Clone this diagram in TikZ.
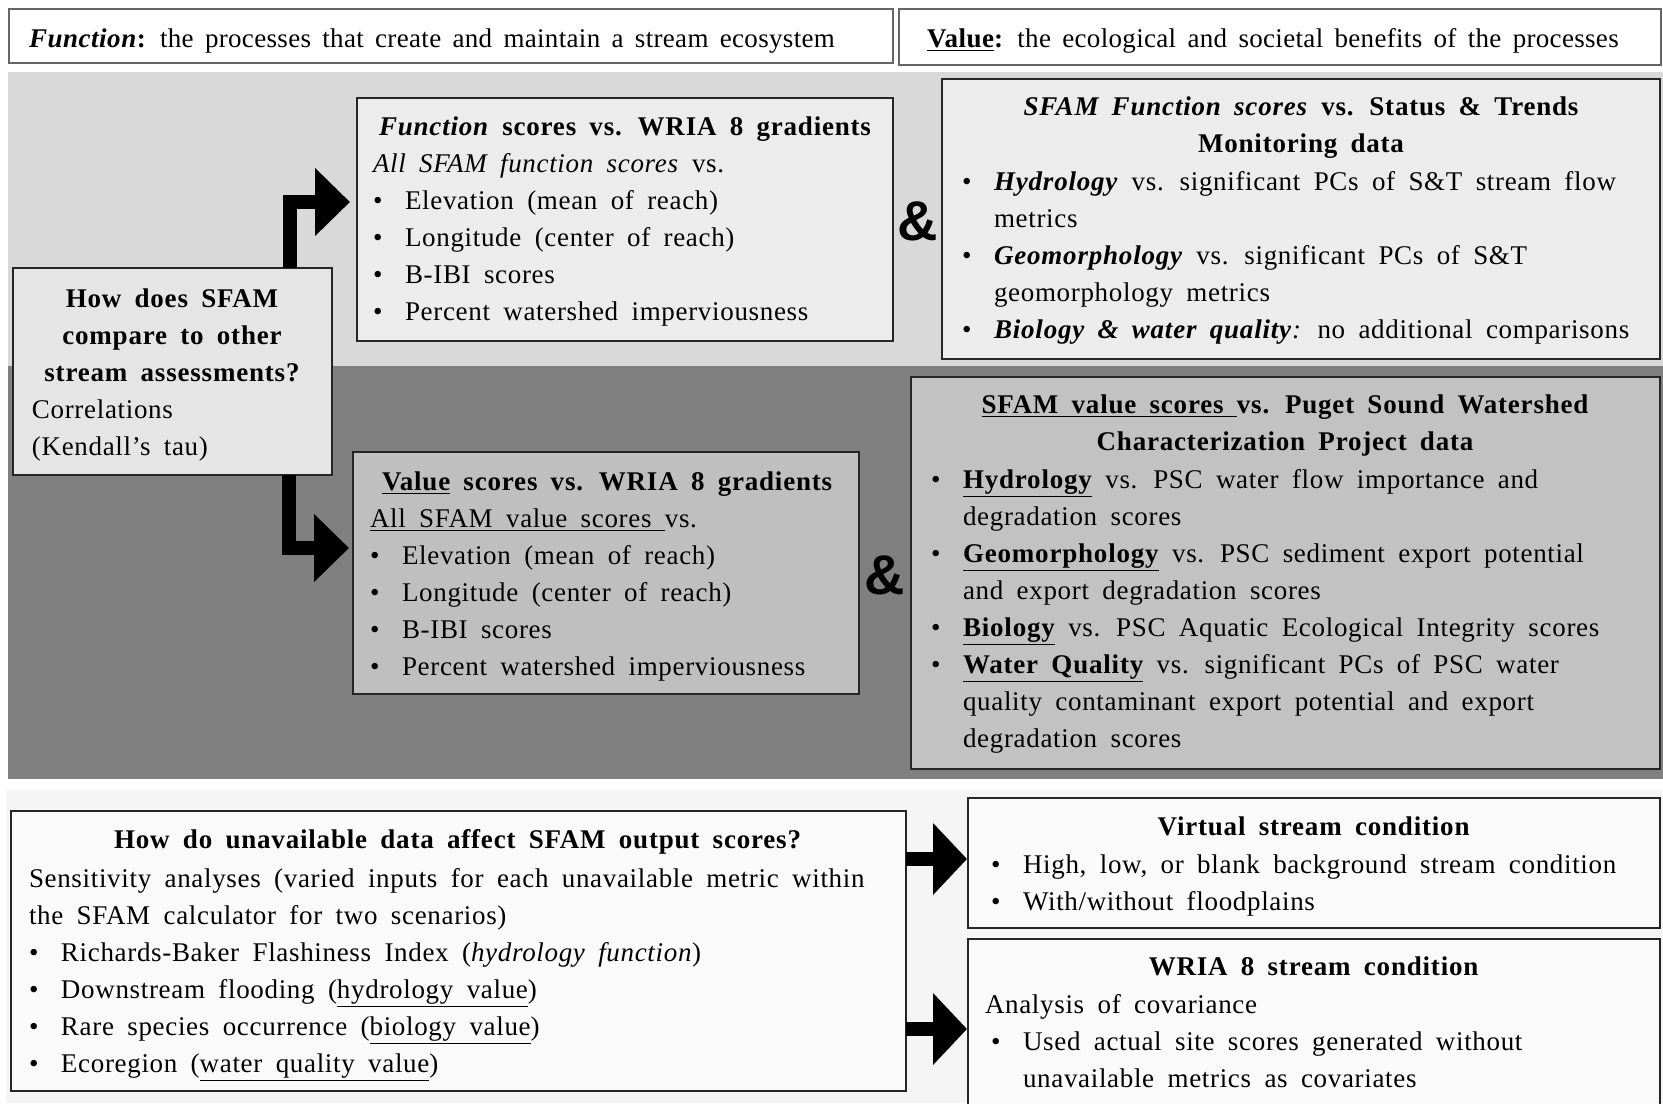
\documentclass[tikz,border=0pt]{standalone}
\usepackage{fontspec}
\setmainfont{Liberation Serif}[LetterSpace=2.5,WordSpace=1.8,BoldFeatures={LetterSpace=3,WordSpace=1.75},BoldItalicFeatures={LetterSpace=3,WordSpace=1.75}]
\newfontfamily\hdrfont{Liberation Serif}[LetterSpace=1.2,WordSpace=1.6,BoldFeatures={LetterSpace=2,WordSpace=1.6},BoldItalicFeatures={LetterSpace=2,WordSpace=1.6}]
\newfontfamily\ampfont{Liberation Sans}
\usetikzlibrary{arrows.meta,fit}
\newcommand\bodyfont{\fontsize{13.5pt}{18.5pt}\selectfont}
\newcommand\bul{\makebox[16pt][l]{\textbullet}}
\newcommand\ind{\hspace*{16pt}}
\begin{document}
\begin{tikzpicture}[x=0.5pt,y=-0.5pt,
  every node/.style={inner sep=0pt,outer sep=0pt},
  hdrbox/.style={draw=gray!80!black,line width=0.6pt,fill=white},
  ltbox/.style={draw=black!85,line width=1pt,fill=gray!15},
  dkbox/.style={draw=black!85,line width=1pt,fill=gray!50},
  wtbox/.style={draw=black!85,line width=1pt,fill=gray!4},
  txt/.style={anchor=base west,font=\bodyfont},
  hdr/.style={anchor=base west,font=\hdrfont\bodyfont},
  ctr/.style={anchor=base,font=\bodyfont},
  bigarrow/.style={line width=7pt,-{Triangle[length=17.5pt,width=33pt]}},
  bigarrowb/.style={line width=7pt,-{Triangle[length=17pt,width=35pt]}},
  amp/.style={anchor=base west,font=\ampfont\bfseries\fontsize{28pt}{28pt}\selectfont}
]
\useasboundingbox (0,0) rectangle (1663,1103);
\fill[white] (0,0) rectangle (1663,1103);
% bands
\fill[gray!30] (8,72) rectangle (1663,366);
\fill[gray] (8,366) rectangle (1663,779);
\fill[gray!8] (6,790) rectangle (1663,1103);

% header boxes
\node[hdrbox, fit={(9,9) (893,63)}] (hl) {};
\node[hdrbox, fit={(899,9) (1661,65)}] (hr) {};
\node[hdr] (hlt) at (29,47) {\textbf{\textit{Function}:} the processes that create and maintain a stream ecosystem};
\node[hdr] (hrt) at (927,47) {\textbf{\underline{Value}:} the ecological and societal benefits of the processes};

% function box
\node[ltbox, fit={(357,98) (893,341)}] (fbox) {};
\node[txt] (ft) at (379,135) {\textbf{\textit{Function} scores vs. WRIA 8 gradients}};
\node[txt] (fb) at (373,172) {\begin{minipage}[t]{500pt}\bodyfont
\textit{All SFAM function scores} vs.\\
\bul Elevation (mean of reach)\\
\bul Longitude (center of reach)\\
\bul B-IBI scores\\
\bul Percent watershed imperviousness\end{minipage}};

% question box
\node[ltbox, fill=gray!20, fit={(13,268) (332,475)}] (q) {};
\node[anchor=base] (qt) at (172,307) {\begin{minipage}[t]{158pt}\centering\bodyfont\bfseries
How does SFAM\\compare to other\\stream assessments?\end{minipage}};
\node[txt] (qb) at (32,418) {\begin{minipage}[t]{150pt}\bodyfont
Correlations\\(Kendall’s tau)\end{minipage}};

% value box
\node[dkbox, fit={(353,452) (859,694)}] (vbox) {};
\node[txt] (vt) at (382,490) {\textbf{\underline{Value} scores vs. WRIA 8 gradients}};
\node[txt] (vb) at (370,527) {\begin{minipage}[t]{500pt}\bodyfont
\underline{All SFAM value scores\ }vs.\\
\bul Elevation (mean of reach)\\
\bul Longitude (center of reach)\\
\bul B-IBI scores\\
\bul Percent watershed imperviousness\end{minipage}};

% status & trends box
\node[ltbox, fit={(942,79) (1660,359)}] (sbox) {};
\node[anchor=base] (st) at (1301,115) {\begin{minipage}[t]{360pt}\centering\bodyfont\bfseries
\textit{SFAM Function scores} vs. Status \& Trends\\Monitoring data\end{minipage}};
\node[txt] (sb) at (962,190) {\begin{minipage}[t]{400pt}\bodyfont
\bul \textbf{\textit{Hydrology}} vs. significant PCs of S\&T stream flow\\
\ind metrics\\
\bul \textbf{\textit{Geomorphology}} vs. significant PCs of S\&T\\
\ind geomorphology metrics\\
\bul \textbf{\textit{Biology \& water quality}}\textit{:} no additional comparisons\end{minipage}};

% puget sound box
\node[dkbox, fill=gray!48, fit={(911,377) (1660,769)}] (pbox) {};
\node[anchor=base] (pt) at (1285,413) {\begin{minipage}[t]{370pt}\centering\bodyfont\bfseries
\underline{SFAM value scores\ }vs. Puget Sound Watershed\\Characterization Project data\end{minipage}};
\node[txt] (pb) at (931,488) {\begin{minipage}[t]{400pt}\bodyfont
\bul \textbf{\underline{Hydrology}} vs. PSC water flow importance and\\
\ind degradation scores\\
\bul \textbf{\underline{Geomorphology}} vs. PSC sediment export potential\\
\ind and export degradation scores\\
\bul \textbf{\underline{Biology}} vs. PSC Aquatic Ecological Integrity scores\\
\bul \textbf{\underline{Water Quality}} vs. significant PCs of PSC water\\
\ind quality contaminant export potential and export\\
\ind degradation scores\end{minipage}};

% ampersands
\node[amp] (amp1) at (897,240) {\&};
\node[amp] (amp2) at (864,594) {\&};

% bottom section
\node[wtbox, fit={(11,811) (906,1091)}] (ubox) {};
\node[ctr] (ut) at (458,848) {\textbf{How do unavailable data affect SFAM output scores?}};
\node[txt] (ub) at (29,887) {\begin{minipage}[t]{450pt}\bodyfont
Sensitivity analyses (varied inputs for each unavailable metric within\\
the SFAM calculator for two scenarios)\\
\bul Richards-Baker Flashiness Index (\textit{hydrology function})\\
\bul Downstream flooding (\underline{hydrology value})\\
\bul Rare species occurrence (\underline{biology value})\\
\bul Ecoregion (\underline{water quality value})\end{minipage}};

\node[wtbox, fit={(968,798) (1660,928)}] (vsbox) {};
\node[ctr] (vst) at (1314,835) {\textbf{Virtual stream condition}};
\node[txt] (vsb) at (991,873) {\begin{minipage}[t]{340pt}\bodyfont
\bul High, low, or blank background stream condition\\
\bul With/without floodplains\end{minipage}};

\node[wtbox, fit={(968,939) (1660,1120)}] (wbox) {};
\node[ctr] (wt) at (1314,975) {\textbf{WRIA 8 stream condition}};
\node[txt] (wb) at (985,1013) {\begin{minipage}[t]{340pt}\bodyfont
Analysis of covariance\\
\hspace*{3pt}\bul Used actual site scores generated without\\
\hspace*{3pt}\ind unavailable metrics as covariates\end{minipage}};

% arrows
\coordinate (a1) at (290,202);
\draw[bigarrow, shorten >=3.5pt] (q.north -| a1) -- (a1) -- (a1 -| fbox.west);
\coordinate (a2) at (289,548);
\draw[bigarrow, shorten >=2pt] (q.south -| a2) -- (a2) -- (a2 -| vbox.west);
\coordinate (a3) at (905,859);
\draw[bigarrowb, shorten >=0.5pt] (ubox.east |- a3) -- (a3 -| vsbox.west);
\coordinate (a4) at (905,1029);
\draw[bigarrowb, shorten >=0.5pt] (ubox.east |- a4) -- (a4 -| wbox.west);
\end{tikzpicture}
\end{document}
